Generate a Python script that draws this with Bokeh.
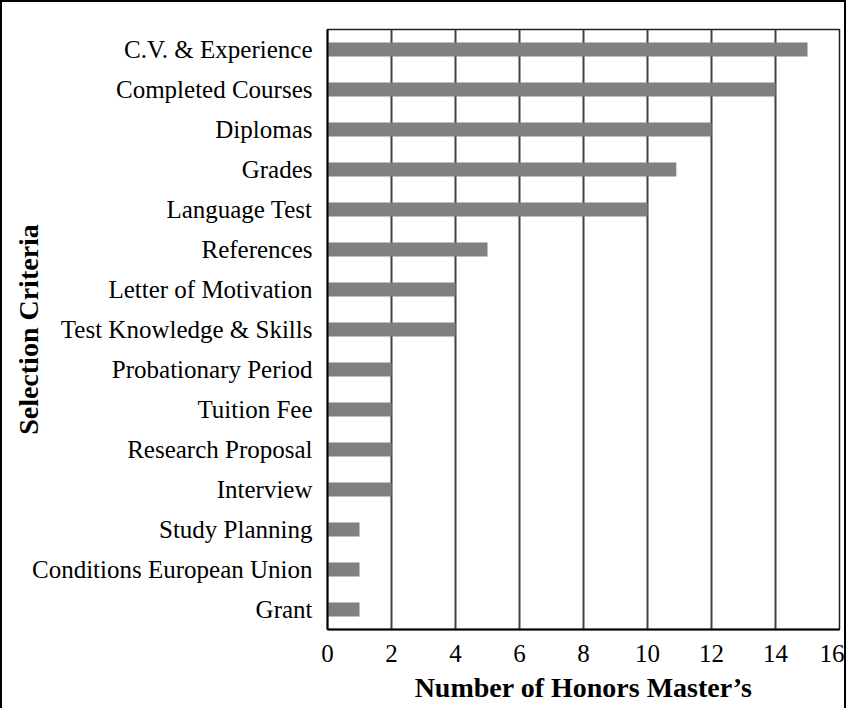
from bokeh.plotting import figure
from bokeh.models import Range1d, FixedTicker
from bokeh.embed import file_html
from bokeh.resources import INLINE

criteria = ["C.V. & Experience", "Completed Courses", "Diplomas", "Grades",
            "Language Test", "References", "Letter of Motivation",
            "Test Knowledge & Skills", "Probationary Period", "Tuition Fee",
            "Research Proposal", "Interview", "Study Planning",
            "Conditions European Union", "Grant"]
counts = [15, 14, 12, 10.9, 10, 5, 4, 4, 2, 2, 2, 2, 1, 1, 1]
x_ticks = [0, 2, 4, 6, 8, 10, 12, 14, 16]

FONT = "Liberation Serif"

p = figure(width=846, height=708, y_range=list(reversed(criteria)),
           x_range=Range1d(0, 16), output_backend="svg", toolbar_location=None,
           min_border_left=325, min_border_right=9, min_border_top=27,
           min_border_bottom=81)
p.styles = {"border-top": "2px solid black", "border-left": "2px solid black",
            "border-right": "2px solid black"}

p.hbar(y=criteria, right=counts, left=0, height=0.35, fill_color="#808080",
       line_color=None)

p.xaxis.ticker = FixedTicker(ticks=x_ticks)
p.xgrid.ticker = FixedTicker(ticks=x_ticks[1:-1])
p.xgrid.grid_line_color = "#404040"
p.xgrid.grid_line_width = 2
p.ygrid.grid_line_color = None

p.outline_line_color = "#202020"
p.outline_line_width = 1.5

for ax in (p.xaxis[0], p.yaxis[0]):
    ax.axis_line_color = "black"
    ax.axis_line_width = 2
    ax.major_tick_line_color = None
    ax.minor_tick_line_color = None
    ax.major_tick_out = 0
    ax.major_tick_in = 0
    ax.minor_tick_out = 0
    ax.major_label_text_font = FONT
    ax.major_label_text_font_size = "25px"
    ax.major_label_text_color = "black"
    ax.axis_label_text_font = FONT
    ax.axis_label_text_font_style = "bold"
    ax.axis_label_text_font_size = "28px"
    ax.axis_label_text_color = "black"

p.xaxis.axis_label = "Number of Honors Master\u2019s"
p.yaxis.axis_label = "Selection Criteria"
p.xaxis.major_label_standoff = 15
p.yaxis.major_label_standoff = 15
p.xaxis.axis_label_standoff = 7
p.yaxis.axis_label_standoff = -15

open("out.html", "w").write(file_html(p, INLINE))
